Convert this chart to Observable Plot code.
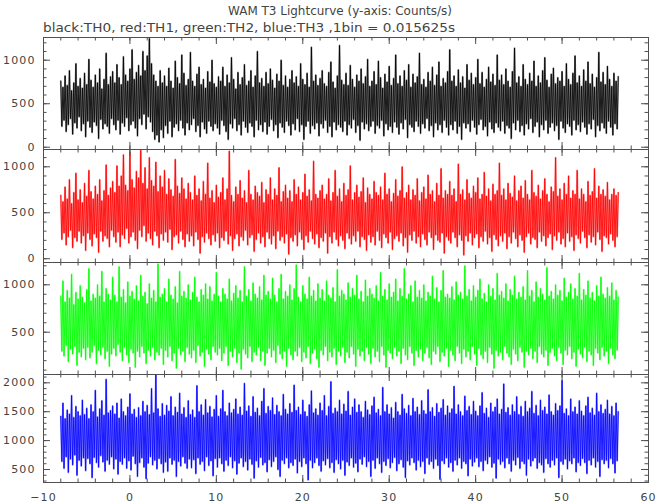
<!DOCTYPE html>
<html><head><meta charset="utf-8">
<script src="https://cdn.jsdelivr.net/npm/d3@7"></script>
<script src="https://cdn.jsdelivr.net/npm/@observablehq/plot@0.6"></script>
<style>
body{margin:0;background:#fff}
#chart{position:relative;width:657px;height:504px;overflow:hidden;font-family:"DejaVu Sans",sans-serif}
#chart > svg{position:absolute;left:0}
#chart svg text{letter-spacing:1.1px}
</style></head><body><div id="chart"></div>
<script>
const titleText = "WAM T3 Lightcurve (y-axis: Counts/s)";
const subtitleText = "black:TH0, red:TH1, green:TH2, blue:TH3 ,1bin = 0.015625s";
const seriesNames = ["TH0", "TH1", "TH2", "TH3"];
const seriesColors = ["#000000", "#ff0000", "#00ff00", "#0000ff"];
const tStart = -8, tStep = 0.125;

// counts/s (alternating local highs and lows of the dense trace)
const th0 = [
760,240,690,310,820,180,710,260,880,330,650,150,740,280,960,220,700,350,790,190,680,270,850,120,
720,300,1010,230,770,170,690,290,830,250,740,100,900,320,670,210,780,270,1080,240,720,160,810,330,
870,260,740,200,950,310,800,150,720,280,1040,240,830,340,760,190,900,260,1120,300,780,220,860,130,
940,330,820,260,1100,380,880,210,1050,350,1250,290,960,180,830,90,760,140,700,60,880,200,740,110,
820,250,700,160,910,300,760,120,680,230,990,270,800,190,730,310,1060,220,850,140,710,280,780,200,
1090,260,760,330,700,180,840,250,920,120,720,290,780,210,680,160,870,300,750,240,1000,190,730,270,
690,220,810,150,760,310,920,250,700,180,830,90,740,270,1030,220,780,330,670,190,860,260,720,140,
800,300,950,230,710,170,760,280,880,240,690,120,820,310,1100,200,740,260,790,180,700,290,860,150,
730,240,900,320,770,190,680,260,840,110,760,280,1000,230,710,170,820,300,690,250,780,140,880,270,
740,200,810,330,700,180,960,260,780,90,720,240,850,300,690,160,1150,250,760,210,830,280,710,130,
790,270,880,220,730,310,700,170,860,240,980,120,750,290,680,200,820,260,1170,230,770,180,720,300,
850,140,710,260,940,220,780,320,690,170,830,250,760,80,900,290,730,210,810,270,1010,190,700,240,
760,300,870,160,720,250,990,220,800,310,680,130,840,270,750,200,930,240,710,170,790,290,1060,230,
730,150,820,280,700,210,880,320,770,110,950,260,690,230,840,180,740,300,810,240,1080,160,720,270,
780,220,690,330,860,190,760,250,920,120,710,280,830,200,980,260,700,170,790,310,740,230,870,140,
1120,260,760,200,820,300,700,160,890,240,740,90,810,280,680,220,950,270,770,180,850,310,720,230,
800,150,1010,260,730,320,860,200,690,240,780,130,920,290,750,210,840,170,710,280,1060,230,770,190,
830,300,720,160,900,250,760,220,690,100,870,280,1140,200,740,310,810,180,700,250,950,140,780,270,
720,210,850,330,760,170,990,240,700,290,820,120,740,260,880,200,1030,310,770,160,690,230,840,280,
910,190,730,250,800,90,760,300,870,220,700,170,960,270,780,240,720,140,850,310,1050,200,740,260,
820,180,700,290,890,230,760,150,980,270,730,210,840,320,690,120,800,250,1090,190,750,280,860,220,
720,160,930,300,780,230,700,140,850,270,760,210,810];

const th1 = [
690,210,620,280,780,150,650,240,860,310,600,120,720,230,930,190,640,300,750,170,610,250,820,90,
680,280,960,210,730,140,650,270,790,230,700,70,860,300,630,190,740,250,1020,220,690,130,770,310,
840,240,720,180,1010,290,790,130,900,260,1130,220,800,330,740,170,1160,240,860,290,770,200,950,110,
880,310,1180,240,820,360,990,190,760,280,1100,220,850,150,790,300,1050,250,730,120,900,270,780,200,
960,290,700,180,870,320,750,100,680,240,1080,260,790,170,710,300,880,210,760,130,650,270,820,190,
720,250,640,140,900,290,690,210,760,60,630,240,840,180,700,280,1040,220,660,150,740,260,610,190,
800,280,670,120,720,230,880,200,640,300,760,160,1170,250,690,90,620,220,780,270,700,140,850,240,
660,200,740,310,610,150,960,230,700,260,640,80,790,210,720,280,680,170,830,240,610,130,750,290,
700,220,880,160,640,250,760,110,690,300,990,200,620,240,730,170,800,270,660,50,740,230,620,190,
860,260,700,140,780,290,640,210,720,100,920,250,680,180,750,300,630,220,1060,160,700,270,660,120,
740,230,800,190,650,280,700,60,870,240,630,170,720,290,960,210,680,140,760,250,620,200,820,110,
690,280,750,220,1010,160,640,250,720,190,800,300,670,130,730,240,880,210,610,90,770,260,700,180,
650,240,840,150,720,300,690,200,780,120,640,270,930,230,700,170,760,290,620,100,710,220,860,250,
680,190,740,280,1000,140,660,230,720,70,800,260,640,200,750,300,690,170,870,240,630,130,720,270,
780,210,650,150,910,290,700,230,740,100,620,260,820,200,690,180,980,280,660,60,740,240,700,200,
840,170,690,290,760,230,620,130,1030,260,700,200,750,40,640,250,860,190,710,280,660,150,790,230,
720,270,880,120,650,240,700,190,940,300,680,160,760,230,630,80,810,260,700,210,740,140,1040,250,
690,190,760,280,640,110,820,240,710,170,670,290,900,220,630,130,740,260,790,200,660,70,850,240,
700,280,640,160,960,230,720,210,680,120,800,290,650,190,740,250,870,140,700,230,620,270,780,100,
730,250,1100,200,680,290,760,160,640,220,820,130,700,280,900,190,660,240,740,90,700,260,960,220,
650,170,760,300,700,230,620,120,840,260,690,180,730,240,980,150,660,290,790,210,700,80,750,250,
680,230,830,160,640,270,700,200,760,130,690,240,720];

const th2 = [
880,300,1040,250,820,360,940,190,860,320,1110,270,790,350,920,150,850,290,990,240,870,330,810,210,
950,340,1170,230,830,290,900,360,860,170,1000,310,880,260,1140,340,820,220,960,300,900,140,840,270,
1080,330,890,250,820,370,1190,290,870,200,950,340,810,260,1030,180,880,320,930,280,850,130,990,300,
830,240,1100,350,880,280,920,170,800,310,1010,250,860,340,940,210,820,290,1220,260,870,330,900,160,
960,310,820,240,1060,350,890,200,850,280,980,120,810,330,1140,260,880,300,930,190,860,340,1000,270,
840,230,920,310,1080,180,870,360,820,250,950,290,890,140,1010,320,850,270,980,210,830,350,900,290,
1130,260,880,330,820,200,960,280,900,350,850,150,1060,300,830,240,910,330,990,180,860,280,940,110,
820,320,1190,270,880,230,950,350,830,190,1020,290,900,260,860,340,980,200,840,300,1100,150,890,280,
930,330,850,240,1070,310,890,180,820,360,960,270,1110,220,850,300,930,140,880,330,1000,260,840,210,
960,300,1210,250,870,340,820,190,990,290,900,230,850,350,1080,170,880,280,940,320,830,220,1010,130,
860,310,950,260,830,350,1040,200,890,290,860,240,970,330,820,160,1160,300,880,250,940,340,900,180,
840,290,1020,230,870,350,960,270,890,140,1100,320,850,250,930,300,820,200,1050,340,880,270,960,170,
900,330,860,240,990,300,830,190,1130,350,880,260,950,130,840,310,1010,280,870,220,920,340,1060,250,
830,300,960,170,880,330,1170,260,850,210,900,350,990,280,820,150,1040,310,870,240,940,320,860,200,
1000,280,830,340,920,230,880,160,1090,300,850,270,970,350,820,190,940,290,1150,250,870,330,900,140,
860,310,980,260,840,200,1030,350,890,280,920,170,850,320,1200,240,880,300,950,210,830,350,990,270,
870,150,940,330,1060,260,850,220,910,300,820,180,1000,340,880,270,960,120,840,310,1120,250,890,290,
930,210,860,350,1010,280,830,240,950,160,890,320,1090,270,850,200,920,340,870,290,980,130,840,300,
1150,260,880,330,940,220,820,300,1030,180,870,350,960,270,900,240,840,310,1180,150,880,290,930,330,
850,250,1000,200,890,340,940,280,830,160,1070,310,870,260,920,350,1010,220,850,290,960,140,880,320,
1120,270,840,230,950,340,890,190,1040,300,860,260,920,150,830,330,990,280,880,210,1080,340,900,250,
860,300,970,170,880,330,1020,260,840,220,940,310,870];

const th3 = [
1420,640,1650,520,1380,720,1530,450,1460,680,1780,580,1400,750,1590,400,1500,660,1430,560,1700,700,1450,480,
1560,690,1380,600,1620,360,1500,710,1870,620,1410,540,1550,740,1690,630,1440,470,2060,660,1480,590,1520,720,
1600,510,1460,680,1650,420,1390,640,1720,590,1500,700,1430,520,1580,650,1810,490,1460,730,1540,600,1400,380,
1570,620,1430,700,1680,540,1500,340,1610,610,1450,720,1900,580,1480,660,2150,510,1550,690,1420,600,1640,450,
1440,630,1610,470,1510,700,1760,590,1430,660,1580,380,1490,640,1820,560,1460,720,1570,610,1400,520,1690,680,
1450,530,1530,670,1400,430,1950,700,1500,590,1620,640,1440,480,1710,720,1480,570,1590,650,1410,390,1540,690,
1780,540,1420,700,1550,600,1870,470,1500,660,1430,570,1650,720,1480,530,1540,650,1720,420,1460,610,1580,700,
1440,550,1990,640,1510,490,1600,680,1420,590,1760,350,1490,650,1560,540,1430,710,1680,580,1900,620,1470,460,
1590,670,1520,550,1740,640,1450,720,1610,500,1500,380,1430,660,1800,600,1540,700,1460,530,1640,620,1490,570,
1960,680,1520,440,1580,640,1450,550,1700,700,1500,600,1420,320,1620,660,1860,530,1480,620,1550,700,1440,570,
1650,470,1520,650,1780,580,1430,690,1590,530,2020,620,1470,450,1560,670,1500,600,1700,510,1460,660,1630,400,
1510,630,1850,570,1440,700,1580,540,1720,610,1490,460,1620,680,1500,590,1400,720,1680,550,1530,640,1450,380,
1600,660,1750,520,1480,700,1540,600,1430,450,1920,640,1500,570,1620,690,1460,530,1570,620,1390,710,1660,480,
1500,600,1440,670,1800,540,1550,360,1470,650,1610,580,1430,700,1730,620,1500,490,1580,660,1450,550,1690,640,
1520,430,1460,700,1880,590,1500,640,1570,520,1420,680,1640,570,1490,330,1560,650,1710,600,1440,700,1600,540,
1480,620,1550,470,1940,660,1460,580,1620,700,1500,520,1430,640,1770,600,1520,390,1590,680,1450,560,1680,630,
1510,700,1430,550,1600,640,1830,480,1470,660,1560,600,1400,720,1650,540,1500,610,1580,350,1720,680,1460,590,
1540,640,1980,530,1490,700,1570,600,1440,470,1620,660,1500,580,1760,710,1450,520,1590,640,1420,600,1680,400,
1500,680,1560,560,1850,650,1470,700,1610,520,1430,620,1700,580,1520,450,1580,690,1460,600,1790,540,1500,660,
1440,580,1640,700,1520,360,1600,640,2040,590,1470,680,1550,510,1430,650,1720,600,1500,700,1580,460,1460,620,
1690,570,1510,690,1430,620,1600,430,1750,660,1480,580,1560,700,1440,540,1820,640,1500,380,1620,670,1470,600,
1540,660,1700,530,1460,690,1590,600,1430,440,1650,650,1500];

const xTicksMajor = [-10, 0, 10, 20, 30, 40, 50, 60];
const yTicksMajor = [[0, 500, 1000], [0, 500, 1000], [500, 1000], [500, 1000, 1500, 2000]];

// layout (pixels) and y-domains of the four stacked panels
const panelLayout = [
  {top: 37, bottom: 149, domain: [-26, 1261]},
  {top: 149, bottom: 262, domain: [-41, 1188]},
  {top: 262, bottom: 374, domain: [54, 1235]},
  {top: 374, bottom: 482, domain: [275, 2144]}
];
const seriesValues = [th0, th1, th2, th3];

const W = 657, ML = 43, MR = 9, PAD = 2;
const xDomain = [-10, 60];
const innerW = W - ML - MR;
const tickColor = "#505050";
const frameColor = "#505050";
const fmt = d => d < 0 ? "\u2212" + (-d) : String(d);
const chart = document.getElementById("chart");

// Title and subtitle
const ns = "http://www.w3.org/2000/svg";
const head = document.createElementNS(ns, "svg");
head.setAttribute("width", W); head.setAttribute("height", 36);
head.style.top = "0px";
function addText(str, x, y, len, anchor) {
  const t = document.createElementNS(ns, "text");
  t.textContent = str;
  t.setAttribute("x", x); t.setAttribute("y", y);
  t.setAttribute("text-anchor", anchor);
  t.setAttribute("textLength", len);
  t.setAttribute("lengthAdjust", "spacingAndGlyphs");
  t.setAttribute("fill", "#444");
  t.setAttribute("font-size", "12.5");
  t.setAttribute("font-family", "DejaVu Sans, sans-serif");
  t.style.letterSpacing = "0px";
  head.appendChild(t);
}
addText(titleText, 340, 15, 224, "middle");
addText(subtitleText, 43, 32, 412, "start");
chart.appendChild(head);

panelLayout.forEach((p, i) => {
  const last = i === panelLayout.length - 1;
  const h = p.bottom - p.top;
  const [y0, y1] = p.domain;
  const data = seriesValues[i].map((v, k) => ({t: tStart + k * tStep, v}));
  const pxY = (y1 - y0) / h, pxX = (xDomain[1] - xDomain[0]) / innerW;
  const majL = 7, minL = 3.5;
  const xMinor = d3.range(-10, 60.001, 2);
  const yMinor = d3.range(Math.ceil(y0 / 100) * 100, y1, 100);
  const yMajor = yTicksMajor[i];
  const col = seriesColors[i];
  const marks = [
    Plot.line(data, {x: "t", y: "v", stroke: col, strokeWidth: 1.8, strokeOpacity: 0.45, clip: true}),
    Plot.line(data, {x: "t", y: "v", stroke: col, strokeWidth: 0.9, strokeOpacity: 0.9, clip: true}),
    Plot.ruleX(xMinor, {x: d => d, y1: y0, y2: y0 + minL * pxY, stroke: tickColor}),
    Plot.ruleX(xMinor, {x: d => d, y1: y1 - minL * pxY, y2: y1, stroke: tickColor}),
    Plot.ruleX(xTicksMajor, {x: d => d, y1: y0, y2: y0 + majL * pxY, stroke: tickColor}),
    Plot.ruleX(xTicksMajor, {x: d => d, y1: y1 - majL * pxY, y2: y1, stroke: tickColor}),
    Plot.ruleY(yMinor, {y: d => d, x1: xDomain[0], x2: xDomain[0] + minL * pxX, stroke: tickColor}),
    Plot.ruleY(yMinor, {y: d => d, x1: xDomain[1] - minL * pxX, x2: xDomain[1], stroke: tickColor}),
    Plot.ruleY(yMajor, {y: d => d, x1: xDomain[0], x2: xDomain[0] + majL * pxX, stroke: tickColor}),
    Plot.ruleY(yMajor, {y: d => d, x1: xDomain[1] - majL * pxX, x2: xDomain[1], stroke: tickColor}),
    Plot.frame({stroke: frameColor}),
    Plot.axisY({ticks: yMajor, tickSize: 0, tickPadding: 8, tickFormat: fmt, label: null, fill: "#444"})
  ];
  if (last) marks.push(Plot.axisX({ticks: xTicksMajor, tickSize: 0, tickPadding: 11, tickFormat: fmt, label: null, fill: "#444"}));
  const mb = last ? 22 : PAD;
  const svg = Plot.plot({
    width: W,
    height: h + PAD + mb,
    marginLeft: ML, marginRight: MR, marginTop: PAD, marginBottom: mb,
    x: {domain: xDomain, axis: null},
    y: {domain: p.domain, axis: null},
    style: {background: "transparent", fontSize: "11px", fontFamily: "DejaVu Sans, sans-serif", color: "#444", overflow: "visible"},
    marks
  });
  svg.style.position = "absolute";
  svg.style.top = (p.top - PAD) + "px";
  svg.style.left = "0px";
  chart.appendChild(svg);
});
</script></body></html>
